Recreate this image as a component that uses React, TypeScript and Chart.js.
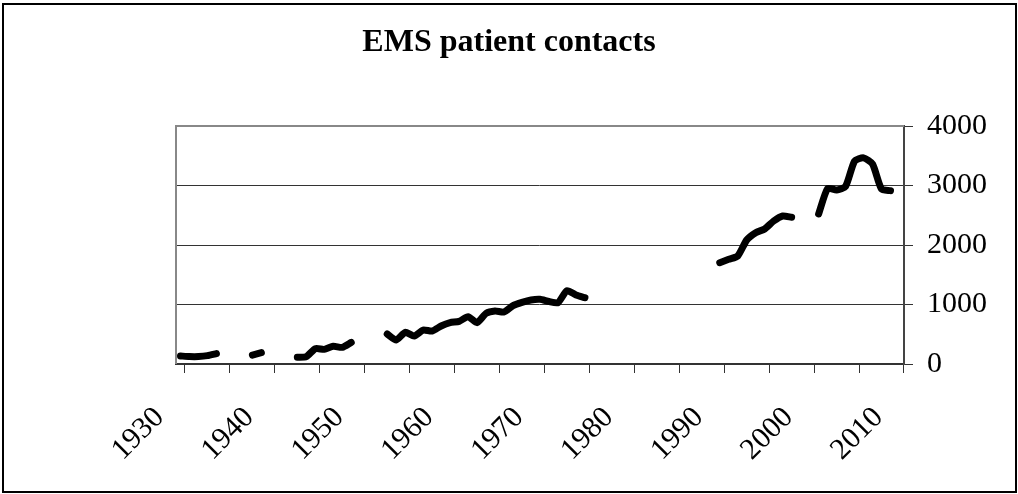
import React, { useEffect, useRef } from 'react';
import { Chart, registerables } from 'chart.js';

Chart.register(...registerables);

const TITLE = 'EMS patient contacts';

const years = [
  '1930', '1931', '1932', '1933', '1934', '1935', '1936', '1937', '1938', '1939',
  '1940', '1941', '1942', '1943', '1944', '1945', '1946', '1947', '1948', '1949',
  '1950', '1951', '1952', '1953', '1954', '1955', '1956', '1957', '1958', '1959',
  '1960', '1961', '1962', '1963', '1964', '1965', '1966', '1967', '1968', '1969',
  '1970', '1971', '1972', '1973', '1974', '1975', '1976', '1977', '1978', '1979',
  '1980', '1981', '1982', '1983', '1984', '1985', '1986', '1987', '1988', '1989',
  '1990', '1991', '1992', '1993', '1994', '1995', '1996', '1997', '1998', '1999',
  '2000', '2001', '2002', '2003', '2004', '2005', '2006', '2007', '2008', '2009',
  '2010',
];

const contacts: (number | null)[] = [
  135, 125, 125, 140, 175, null, null, null, 150, 190,
  null, null, null, 112, 123, 258, 246, 297, 280, 364,
  null, null, null, 504, 403, 532, 471, 571, 555, 639,
  695, 717, 796, 695, 851, 891, 874, 980, 1036, 1076,
  1087, 1050, 1031, 1233, 1160, 1115, null, null, null, null,
  null, null, null, null, null, null, null, null, null, null,
  1703, 1759, 1815, 2084, 2207, 2269, 2403, 2487, 2465, null,
  null, 2521, 2950, 2924, 2985, 3410, 3465, 3361, 2940, 2913,
  null,
];

const xLabelYears = ['1930', '1940', '1950', '1960', '1970', '1980', '1990', '2000', '2010'];
const yTickValues = [0, 1000, 2000, 3000, 4000];

const FONT = '"Liberation Serif", "Times New Roman", serif';

const framePlugin = {
  id: 'frame',
  beforeDraw(chart: any) {
    const { ctx, width, height } = chart;
    ctx.save();
    ctx.fillStyle = '#ffffff';
    ctx.fillRect(0, 0, width, height);
    ctx.restore();
  },
  beforeDatasetsDraw(chart: any) {
    const { ctx, chartArea } = chart;
    ctx.save();
    ctx.strokeStyle = '#888888';
    ctx.lineWidth = 2;
    ctx.beginPath();
    ctx.moveTo(chartArea.left, chartArea.bottom);
    ctx.lineTo(chartArea.left, chartArea.top);
    ctx.lineTo(chartArea.right, chartArea.top);
    ctx.stroke();
    ctx.restore();
  },
  afterDraw(chart: any) {
    const { ctx } = chart;
    ctx.save();
    ctx.fillStyle = '#000';
    ctx.font = `bold 32px ${FONT}`;
    ctx.textAlign = 'center';
    ctx.textBaseline = 'alphabetic';
    ctx.fillText(TITLE, 509, 51);
    ctx.strokeStyle = '#000';
    ctx.lineWidth = 2;
    ctx.strokeRect(3, 4, 1013, 488);
    ctx.restore();
  },
};

const tickMarkColor = (c: any) => {
  if (c.index === undefined || c.type !== 'tick') return '#333333';
  return c.index % 5 === 1 ? '#333333' : 'rgba(0,0,0,0)';
};

export default function App() {
  const ref = useRef<HTMLCanvasElement>(null);
  useEffect(() => {
    if (!ref.current) return;
    const chart = new Chart(ref.current, {
      type: 'line',
      data: {
        labels: years,
        datasets: [
          {
            data: contacts,
            borderColor: '#000000',
            borderWidth: 7,
            borderCapStyle: 'round',
            borderJoinStyle: 'round',
            pointRadius: 0,
            tension: 0.2,
            spanGaps: false,
            fill: false,
          },
        ],
      },
      options: {
        responsive: false,
        animation: false,
        devicePixelRatio: 1,
        layout: { padding: { left: 176, top: 126, right: 0, bottom: 0 } },
        plugins: {
          legend: { display: false },
          tooltip: { enabled: false },
          title: { display: false },
        },
        scales: {
          x: {
            type: 'category',
            offset: true,
            grid: {
              offset: true,
              drawOnChartArea: false,
              drawTicks: true,
              tickLength: 9,
              lineWidth: 1,
              color: tickMarkColor,
              tickColor: tickMarkColor,
            },
            border: { display: true, color: '#333333', width: 2 },
            ticks: {
              autoSkip: false,
              maxRotation: 45,
              minRotation: 45,
              padding: 27,
              labelOffset: -21,
              color: '#000000',
              font: { family: FONT, size: 30 },
              callback: (_v: any, i: number) => (xLabelYears.includes(years[i]) ? years[i] : ''),
            },
            afterFit: (s: any) => {
              s.height = 130;
            },
          },
          y: {
            position: 'right',
            min: 0,
            max: 4000,
            afterBuildTicks: (s: any) => {
              s.ticks = yTickValues.map((v) => ({ value: v }));
            },
            grid: { color: '#333333', lineWidth: 1, tickLength: 9 },
            border: { display: true, color: '#444444', width: 2 },
            ticks: {
              padding: 14,
              color: '#000000',
              font: { family: FONT, size: 30 },
              callback: (v: any) => String(v),
            },
            afterFit: (s: any) => {
              s.width = 114;
            },
          },
        },
      },
      plugins: [framePlugin],
    } as any);
    return () => chart.destroy();
  }, []);
  return (
    <div style={{ position: 'absolute', left: 0, top: 0, width: 1018, height: 494, background: '#fff' }}>
      <canvas ref={ref} width={1018} height={494} style={{ display: 'block' }} />
    </div>
  );
}
